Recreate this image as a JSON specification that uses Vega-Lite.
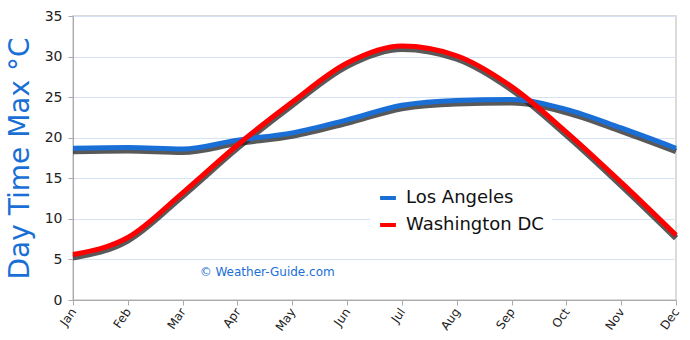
{
  "$schema": "https://vega.github.io/schema/vega-lite/v6.json",
  "width": 603,
  "height": 284,
  "autosize": {"type": "none"},
  "padding": {"left": 73, "top": 16, "right": 14, "bottom": 40},
  "background": "white",
  "config": {
    "view": {"stroke": "#cfcfcf", "strokeWidth": 1.5},
    "font": "DejaVu Sans"
  },
  "datasets": {
    "temps": [
      {"month": "Jan", "city": "Los Angeles", "temp": 18.7},
      {"month": "Feb", "city": "Los Angeles", "temp": 18.8},
      {"month": "Mar", "city": "Los Angeles", "temp": 18.6},
      {"month": "Apr", "city": "Los Angeles", "temp": 19.7},
      {"month": "May", "city": "Los Angeles", "temp": 20.6},
      {"month": "Jun", "city": "Los Angeles", "temp": 22.2},
      {"month": "Jul", "city": "Los Angeles", "temp": 24.0},
      {"month": "Aug", "city": "Los Angeles", "temp": 24.6},
      {"month": "Sep", "city": "Los Angeles", "temp": 24.7},
      {"month": "Oct", "city": "Los Angeles", "temp": 23.5},
      {"month": "Nov", "city": "Los Angeles", "temp": 21.2},
      {"month": "Dec", "city": "Los Angeles", "temp": 18.7},
      {"month": "Jan", "city": "Washington DC", "temp": 5.6},
      {"month": "Feb", "city": "Washington DC", "temp": 7.7},
      {"month": "Mar", "city": "Washington DC", "temp": 13.2},
      {"month": "Apr", "city": "Washington DC", "temp": 19.1},
      {"month": "May", "city": "Washington DC", "temp": 24.4},
      {"month": "Jun", "city": "Washington DC", "temp": 29.2},
      {"month": "Jul", "city": "Washington DC", "temp": 31.3},
      {"month": "Aug", "city": "Washington DC", "temp": 30.1},
      {"month": "Sep", "city": "Washington DC", "temp": 26.3},
      {"month": "Oct", "city": "Washington DC", "temp": 20.7},
      {"month": "Nov", "city": "Washington DC", "temp": 14.5},
      {"month": "Dec", "city": "Washington DC", "temp": 8.0}
    ],
    "credit": [
      {"month": "Mar", "temp": 3.4, "label": "© Weather-Guide.com"}
    ]
  },
  "layer": [
    {
      "data": {"name": "temps"},
      "mark": {"type": "line", "interpolate": "monotone", "strokeWidth": 6, "color": "#222222", "opacity": 0.75, "yOffset": 3},
      "encoding": {
        "x": {"field": "month", "type": "ordinal", "sort": null,
              "scale": {"type": "point", "padding": 0},
              "axis": {"title": null, "labelAngle": -55, "labelAlign": "right", "labelBaseline": "middle",
                       "labelFontSize": 12, "labelColor": "#222", "labelPadding": 4,
                       "domainColor": "#aaaaaa", "tickColor": "#aaaaaa", "tickSize": 5, "grid": false}},
        "y": {"field": "temp", "type": "quantitative",
              "scale": {"domain": [0, 35]},
              "axis": {"values": [0, 5, 10, 15, 20, 25, 30, 35], "title": "Day Time Max °C",
                       "titleColor": "#1a6fd6", "titleFontSize": 28, "titleFontWeight": "normal",
                       "titleFont": "DejaVu Sans", "titlePadding": 10,
                       "labelFontSize": 14, "labelColor": "#222", "labelPadding": 6,
                       "domainColor": "#aaaaaa", "tickColor": "#aaaaaa", "tickSize": 5,
                       "gridColor": "#d4e2f4", "gridWidth": 1}},
        "detail": {"field": "city"}
      }
    },
    {
      "data": {"name": "temps"},
      "mark": {"type": "line", "interpolate": "monotone", "strokeWidth": 5},
      "encoding": {
        "x": {"field": "month", "type": "ordinal", "sort": null},
        "y": {"field": "temp", "type": "quantitative"},
        "color": {"field": "city", "type": "nominal",
                  "scale": {"domain": ["Los Angeles", "Washington DC"], "range": ["#1a6fd6", "#ff0000"]},
                  "legend": {"title": null, "orient": "none", "legendX": 297, "legendY": 164,
                             "fillColor": "white", "padding": 8, "symbolType": "stroke",
                             "symbolStrokeWidth": 4, "symbolSize": 250, "labelFontSize": 18,
                             "labelColor": "#111", "rowPadding": 8, "labelOffset": 8}}
      }
    },
    {
      "data": {"name": "credit"},
      "mark": {"type": "text", "align": "left", "baseline": "middle", "dx": 17, "fontSize": 12, "color": "#1a6fd6"},
      "encoding": {
        "x": {"field": "month", "type": "ordinal", "sort": null},
        "y": {"field": "temp", "type": "quantitative"},
        "text": {"field": "label"}
      }
    }
  ]
}
